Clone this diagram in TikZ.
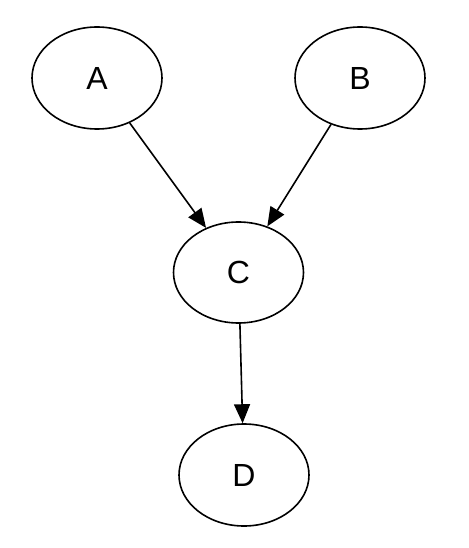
\documentclass[tikz,border=0pt]{standalone}
\usepackage{fontspec}
\setmainfont{Liberation Sans}
\usetikzlibrary{shapes.geometric,arrows.meta}
\begin{document}
\begin{tikzpicture}[x=1pt,y=1pt,
  vnode/.style={draw, ellipse, line width=1.6pt, minimum width=130pt, minimum height=102pt, inner sep=0pt, font=\fontsize{32}{32}\selectfont},
  edge/.style={line width=1.6pt, -{Triangle[length=19pt,width=16pt]}}]
\useasboundingbox (0,0) rectangle (468,-548);
\node[vnode] (A) at (97,-78) {A};
\node[vnode] (B) at (360,-78) {B};
\node[vnode, minimum height=101pt] (C) at (238.5,-272.5) {C};
\node[vnode] (D) at (244,-475) {D};
\draw[edge] (A) -- (C);
\draw[edge] (B) -- (C);
\draw[edge] (C) -- (D);
\end{tikzpicture}
\end{document}
